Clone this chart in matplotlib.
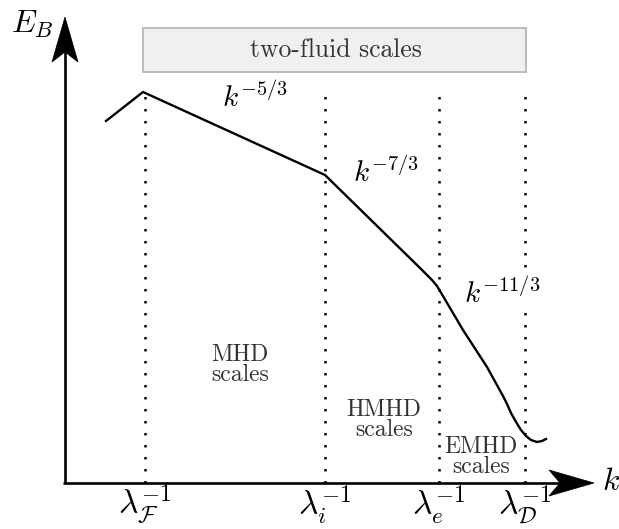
"""Schematic magnetic energy spectrum E_B(k) with two-fluid scale ranges."""

import matplotlib
matplotlib.use("Agg")
import matplotlib.pyplot as plt
from matplotlib.patches import Polygon, Rectangle

plt.rcParams["mathtext.fontset"] = "cm"

W, H = 619, 529

# Spectrum (schematic, figure units: k to the right, E_B upward)
curve_k = [106, 143, 325, 420, 432, 437, 440, 463, 487, 503, 507, 511, 516,
           521, 526, 531, 537, 542, 546]
curve_E = [408, 437, 354, 261, 249, 243, 238, 199, 162, 133, 125, 116, 107,
           99, 93, 89, 87, 88, 90]

# Characteristic scales
scale_k = [145, 325, 439, 525]
scale_labels = [r"$\lambda_{\mathcal{F}}^{-1}$", r"$\lambda_i^{-1}$",
                r"$\lambda_e^{-1}$", r"$\lambda_{\mathcal{D}}^{-1}$"]

# Power-law labels
slope_labels = [r"$k^{-5/3}$", r"$k^{-7/3}$", r"$k^{-11/3}$"]
slope_pos = [(255, 432), (386, 357), (502, 236)]

# Regime labels
regime_labels = ["MHD\nscales", "HMHD\nscales", "EMHD\nscales"]
regime_pos = [(240, 164), (384, 109), (481, 72)]

ORIGIN = (65, 46)

fig = plt.figure(figsize=(W / 100, H / 100), dpi=100)
ax = fig.add_axes([0, 0, 1, 1])
ax.set_xlim(0, W)
ax.set_ylim(0, H)
ax.axis("off")

# ── Axes with arrows ──────────────────────────────────────────────
ax.plot([ORIGIN[0], ORIGIN[0]], [ORIGIN[1], 480], color="black", lw=1.9,
        solid_capstyle="butt")
ax.plot([ORIGIN[0] - 2, 560], [ORIGIN[1], ORIGIN[1]], color="black", lw=1.9,
        solid_capstyle="butt")
ax.add_patch(Polygon([(65, 512), (52, 467), (65, 477), (78, 467)],
                     closed=True, fc="black", ec="black", lw=0.5))
ax.add_patch(Polygon([(594, 46), (549, 59), (560, 46), (549, 33)],
                     closed=True, fc="black", ec="black", lw=0.5))
ax.text(11, 505, r"$E_B$", fontsize=23, ha="left", va="center")
ax.text(602, 48, r"$k$", fontsize=23, ha="left", va="center")

# ── Dotted scale markers ──────────────────────────────────────────
for k, lab in zip(scale_k, scale_labels):
    ax.plot([k, k], [ORIGIN[1], 441], color="black", lw=1.8,
            linestyle=(0, (1, 3.8)), zorder=1)
    ax.text(k, 24, lab, fontsize=24, ha="center", va="center")

# ── Spectrum ──────────────────────────────────────────────────────
ax.plot(curve_k, curve_E, color="black", lw=1.7, solid_joinstyle="round",
        zorder=3)

for lab, (x, y) in zip(slope_labels, slope_pos):
    ax.text(x, y, lab, fontsize=21, ha="center", va="center", zorder=2,
            bbox=dict(boxstyle="square,pad=0.05", fc="white", ec="none"))

for lab, (x, y) in zip(regime_labels, regime_pos):
    ax.text(x, y, lab, fontsize=17, ha="center", va="center",
            family="cmr10", color="#333333", linespacing=0.9)

# ── Two-fluid band ────────────────────────────────────────────────
ax.add_patch(Rectangle((143, 529 - 72), 383, 44, fc="#f0f0f0",
                       ec="#bbbbbb", lw=1.4))
ax.text(336, 529 - 50, "two-fluid scales", fontsize=18.5, ha="center",
        va="center", family="cmr10", color="#333333")

fig.savefig("out.png", dpi=100)
